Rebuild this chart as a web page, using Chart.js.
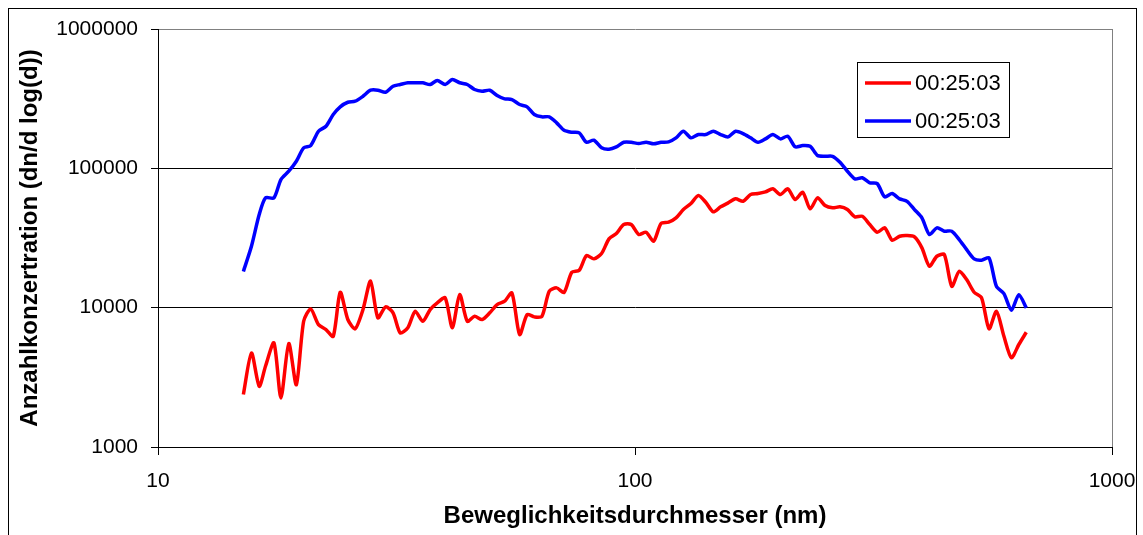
<!DOCTYPE html>
<html>
<head>
<meta charset="utf-8">
<script src="https://cdn.jsdelivr.net/npm/chart.js@4/dist/chart.umd.min.js"></script>
<style>
  body { margin: 0; background: #fff; }
  canvas { display: block; }
</style>
</head>
<body>
<canvas id="sizeChart" width="1143" height="535"></canvas>
<script>
// SMPS channel diameters (nm), 64 channels per decade
var diameters = [15.1, 15.7, 16.3, 16.8, 17.5, 18.1, 18.8, 19.5, 20.2, 20.9,
  21.7, 22.5, 23.3, 24.1, 25.0, 25.9, 26.9, 27.9, 28.9, 30.0,
  31.1, 32.2, 33.4, 34.6, 35.9, 37.2, 38.5, 40.0, 41.4, 42.9,
  44.5, 46.1, 47.8, 49.6, 51.4, 53.3, 55.2, 57.3, 59.4, 61.5,
  63.8, 66.1, 68.5, 71.0, 73.7, 76.4, 79.1, 82.0, 85.1, 88.2,
  91.4, 94.7, 98.2, 101.8, 105.5, 109.4, 113.4, 117.6, 121.9, 126.3,
  131.0, 135.8, 140.7, 145.9, 151.2, 156.8, 162.5, 168.5, 174.7, 181.1,
  187.7, 194.6, 201.7, 209.1, 216.7, 224.7, 232.9, 241.4, 250.3, 259.5,
  269.0, 278.8, 289.0, 299.6, 310.6, 322.0, 333.8, 346.0, 358.7, 371.8,
  385.4, 399.5, 414.2, 429.4, 445.1, 461.4, 478.3, 495.8, 514.0, 532.8,
  552.3, 572.5, 593.5, 615.3, 637.8, 661.2];

// red series
var concRed = [2380, 4730, 2730, 3800, 5590, 2250, 5530, 2800, 7990, 9800,
  7560, 6970, 6230, 12900, 8220, 7050, 9690, 15500, 8450, 10130,
  9180, 6590, 7170, 9420, 7990, 9690, 10830, 11760, 7170, 12400,
  7990, 8670, 8220, 9180, 10530, 11120, 12770, 6410, 8920, 8590,
  8670, 13110, 13870, 12840, 17960, 18560, 23660, 22400, 24460, 31180,
  34040, 39510, 39510, 33490, 34780, 29970, 40160, 41040, 44120, 50610,
  55880, 63780, 57090, 48730, 52910, 56530, 60400, 58050, 64850, 65940,
  67820, 71270, 64850, 71270, 59700, 67370, 51200, 61410, 54080, 52040,
  52910, 50610, 44860, 45300, 39510, 34780, 37400, 30470, 32540, 32920,
  32220, 26870, 19830, 23390, 24050, 14240, 18250, 15910, 12900, 11760,
  7050, 9420, 6230, 4370, 5440, 6660];

// blue series
var concBlue = [18200, 27600, 46600, 61400, 61400, 83100, 95300, 112500, 140300, 145700,
  184500, 200500, 243300, 276300, 298100, 303100, 329200, 363600, 363600, 351800,
  388500, 399700, 411300, 411300, 411300, 399700, 427300, 399700, 434400, 411300,
  399700, 368000, 357600, 363600, 333100, 315400, 311800, 287000, 276300, 243300,
  234200, 234200, 212100, 187600, 181500, 179700, 153900, 159100, 140300, 137000,
  142600, 153900, 153900, 150600, 153900, 149900, 153900, 154900, 165500, 184500,
  165500, 174800, 174800, 184500, 174800, 168200, 184500, 177600, 165500, 153900,
  162700, 174800, 162700, 169900, 142600, 145700, 144000, 123600, 122100, 122100,
  110600, 95300, 84100, 85500, 78700, 77700, 62400, 65900, 60400, 58000,
  50600, 44100, 33500, 37400, 35400, 35400, 30800, 26100, 22400, 21900,
  22800, 14200, 12600, 9580, 12400, 9970];

var seriesLabels = ["00:25:03", "00:25:03"];
var xTickValues = [10, 100, 1000];
var yTickValues = [1000, 10000, 100000, 1000000];

function toPoints(conc) {
  return diameters.map(function(d, i) { return { x: d, y: conc[i] }; });
}

var tickFont = { family: "'Liberation Sans', Arial, sans-serif", size: 21 };
var titleFont = { family: "'Liberation Sans', Arial, sans-serif", size: 24, weight: 'bold' };

// frame round the whole chart plus the boxed legend
var framePlugin = {
  id: 'frame',
  afterDraw: function(chart) {
    var ctx = chart.ctx;
    ctx.save();
    ctx.strokeStyle = '#000';
    ctx.lineWidth = 1;
    ctx.strokeRect(8.5, 8.5, 1128, 540);

    // legend
    ctx.strokeRect(857.5, 62.5, 152, 75);
    var rows = [83, 121];
    chart.data.datasets.forEach(function(ds, i) {
      ctx.strokeStyle = ds.borderColor;
      ctx.lineWidth = 3.5;
      ctx.beginPath();
      ctx.moveTo(865, rows[i]);
      ctx.lineTo(911, rows[i]);
      ctx.stroke();
      ctx.fillStyle = '#000';
      ctx.font = "22px 'Liberation Sans', Arial, sans-serif";
      ctx.textAlign = 'left';
      ctx.textBaseline = 'middle';
      ctx.fillText(ds.label, 915, rows[i] + 1);
    });
    ctx.restore();
  }
};

var chart = new Chart(document.getElementById('sizeChart').getContext('2d'), {
  type: 'scatter',
  data: {
    datasets: [{
      label: seriesLabels[0],
      data: toPoints(concRed),
      borderColor: '#ff0000',
      backgroundColor: '#ff0000',
      borderWidth: 3.5,
      pointRadius: 0,
      showLine: true,
      tension: 0.25
    }, {
      label: seriesLabels[1],
      data: toPoints(concBlue),
      borderColor: '#0000ff',
      backgroundColor: '#0000ff',
      borderWidth: 3.5,
      pointRadius: 0,
      showLine: true,
      tension: 0.25
    }]
  },
  options: {
    responsive: false,
    animation: false,
    layout: { padding: { left: 0, right: 31, top: 29, bottom: 0 } },
    plugins: { legend: { display: false }, tooltip: { enabled: false } },
    scales: {
      x: {
        type: 'logarithmic',
        min: 10,
        max: 1000,
        afterBuildTicks: function(s) { s.ticks = xTickValues.map(function(v) { return { value: v }; }); },
        afterFit: function(s) { s.height = 88; s.paddingLeft = 0; s.paddingRight = 0; },
        grid: {
          drawOnChartArea: true,
          color: function(c) { return c.tick && c.tick.value === 1000 ? '#808080' : 'rgba(0,0,0,0)'; },
          tickColor: '#000',
          tickLength: 8
        },
        border: { color: '#000', width: 1 },
        ticks: {
          color: '#000',
          font: tickFont,
          padding: 14,
          maxRotation: 0,
          autoSkip: false,
          callback: function(v) { return String(v); }
        },
        title: {
          display: true,
          text: 'Beweglichkeitsdurchmesser (nm)',
          color: '#000',
          font: titleFont,
          padding: { top: 0, bottom: 4 }
        }
      },
      y: {
        type: 'logarithmic',
        min: 1000,
        max: 1000000,
        afterBuildTicks: function(s) { s.ticks = yTickValues.map(function(v) { return { value: v }; }); },
        afterFit: function(s) { s.width = 158; s.paddingTop = 0; s.paddingBottom = 0; },
        grid: {
          color: function(c) { return c.tick && c.tick.value === 1000000 ? '#808080' : '#000'; },
          tickColor: '#000',
          tickLength: 7
        },
        border: { color: '#000', width: 1 },
        ticks: {
          color: '#000',
          font: tickFont,
          padding: 13,
          autoSkip: false,
          callback: function(v) { return String(v); }
        },
        title: {
          display: true,
          text: 'Anzahlkonzertration (dn/d log(d))',
          color: '#000',
          font: titleFont,
          padding: { top: 16, bottom: 0 }
        }
      }
    }
  },
  plugins: [framePlugin]
});
</script>
</body>
</html>
